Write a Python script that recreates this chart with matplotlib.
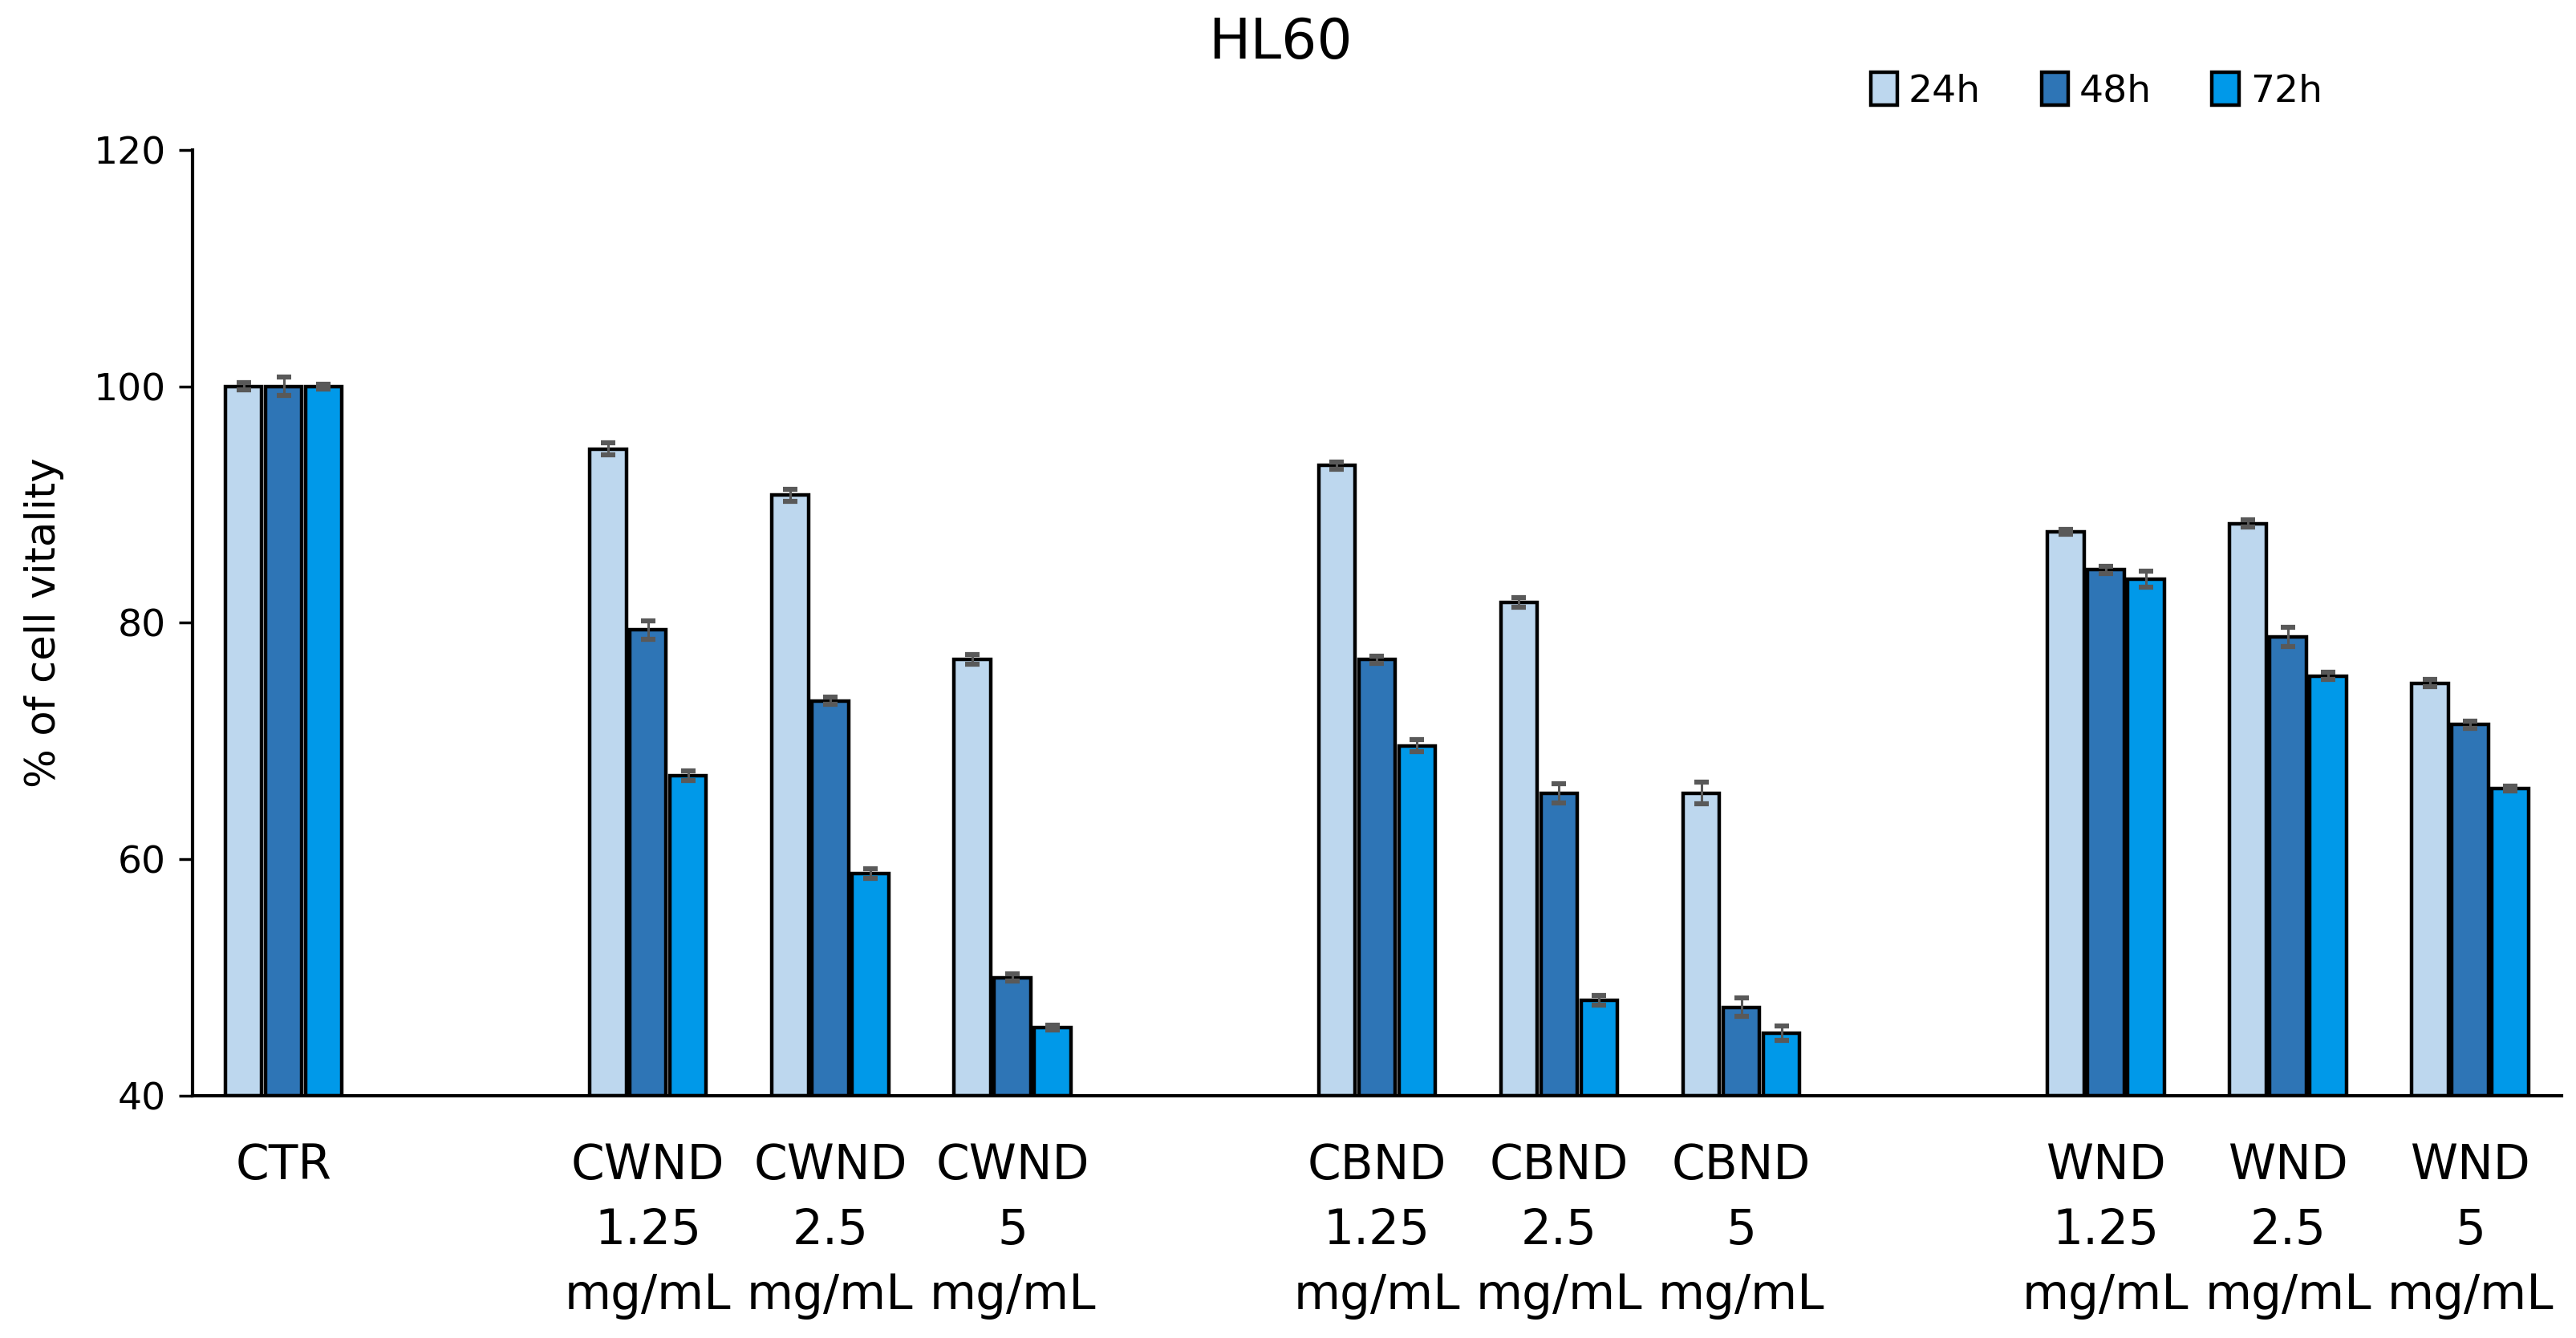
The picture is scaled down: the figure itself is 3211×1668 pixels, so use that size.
import matplotlib
matplotlib.use("Agg")
import matplotlib.pyplot as plt
import numpy as np

# Data
labels = ['CTR',
          'CWND\n1.25\nmg/mL', 'CWND\n2.5\nmg/mL', 'CWND\n5\nmg/mL',
          'CBND\n1.25\nmg/mL', 'CBND\n2.5\nmg/mL', 'CBND\n5\nmg/mL',
          'WND\n1.25\nmg/mL', 'WND\n2.5\nmg/mL', 'WND\n5\nmg/mL']
group_sizes = [1, 3, 3, 3]

series_names = ['24h', '48h', '72h']
v24 = [100.0, 94.7, 90.8, 76.9, 93.3, 81.7, 65.6, 87.7, 88.4, 74.9]
v48 = [100.0, 79.4, 73.4, 50.0, 76.9, 65.6, 47.5, 84.5, 78.8, 71.4]
v72 = [100.0, 67.1, 58.8, 45.8, 69.6, 48.1, 45.3, 83.7, 75.5, 66.0]
e24 = [0.3, 0.5, 0.5, 0.4, 0.3, 0.4, 0.9, 0.2, 0.3, 0.3]
e48 = [0.8, 0.8, 0.3, 0.3, 0.3, 0.8, 0.8, 0.3, 0.8, 0.3]
e72 = [0.2, 0.4, 0.4, 0.2, 0.5, 0.4, 0.6, 0.7, 0.3, 0.2]

colors = ['#BDD7EE', '#2E75B6', '#0099E9']

# x positions: one empty slot between groups
pos = []
start = 0
for size in group_sizes:
    pos.extend(range(start, start + size))
    start += size + 1
pos = np.array(pos, dtype=float)

fig = plt.figure(figsize=(32.12, 16.68), dpi=100)
ax = fig.add_axes([0.0747, 0.181, 0.9193, 0.707])

width = 0.2
offsets = [-0.22, 0.0, 0.22]
for vals, errs, col, off, name in zip([v24, v48, v72], [e24, e48, e72], colors, offsets, series_names):
    ax.bar(pos + off, np.array(vals) - 40, width, bottom=40, color=col,
           edgecolor='black', linewidth=3.2, label=name, zorder=2)
    ax.errorbar(pos + off, vals, yerr=errs, fmt='none', ecolor='#595959',
                elinewidth=2.2, capsize=6.5, capthick=4.5, zorder=3)

ax.set_xlim(-0.5, 12.5)
ax.set_ylim(40, 120)
ax.set_yticks([40, 60, 80, 100, 120])
ax.set_xticks(pos)
ax.set_xticklabels(labels, fontsize=43, family='DejaVu Sans', linespacing=1.47)
ax.tick_params(axis='x', length=0, pad=42)
ax.tick_params(axis='y', length=12, width=2.5, labelsize=34, pad=12)

ax.spines['top'].set_visible(False)
ax.spines['right'].set_visible(False)
ax.spines['left'].set_linewidth(3)
ax.spines['bottom'].set_linewidth(3)

ax.set_ylabel('% of cell vitality', fontsize=37, family='DejaVu Sans', labelpad=26)
fig.text(0.497, 0.968, 'HL60', ha='center', va='center', fontsize=50, family='DejaVu Sans')

leg = ax.legend(loc='upper left', bbox_to_anchor=(0.694, 1.118), ncol=3, frameon=False,
                handlelength=0.7, handleheight=0.95, handletextpad=0.3,
                columnspacing=1.6, prop={'family': 'DejaVu Sans', 'size': 34})

fig.savefig('out.png', dpi=100, facecolor='white')
